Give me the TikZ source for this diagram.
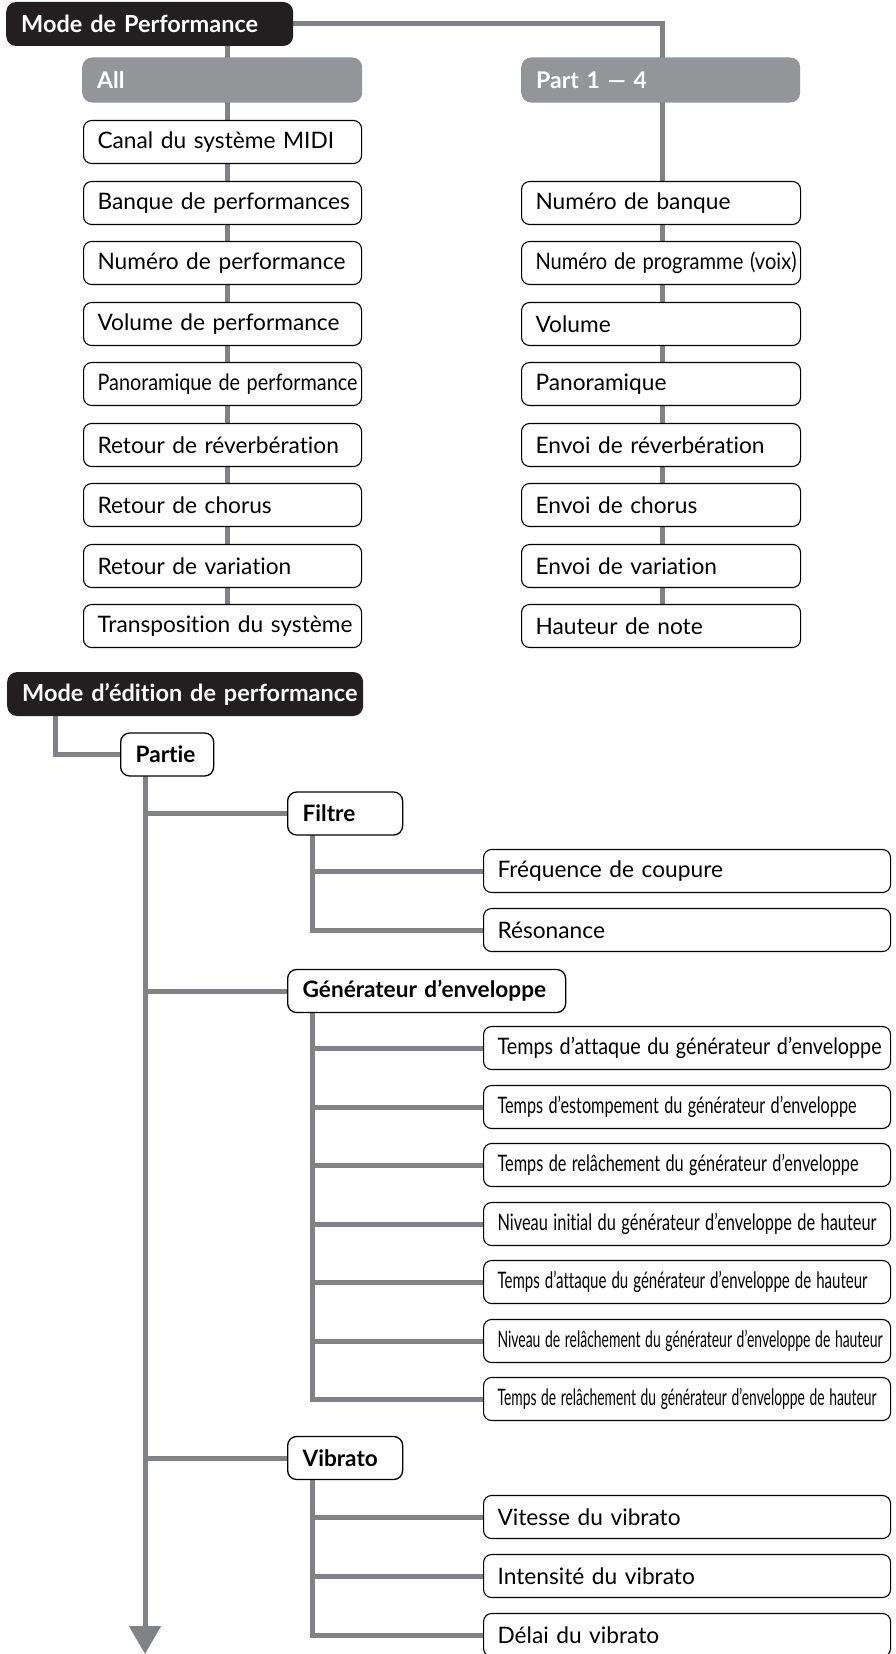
\documentclass[tikz,border=0pt]{standalone}
\usepackage{fontspec}
\setmainfont{Lato}[Ligatures=NoCommon]
\usepackage{graphicx}
\usepackage{tikz}
\usetikzlibrary{positioning, arrows.meta, backgrounds}

\definecolor{linegray}{HTML}{808285}
\definecolor{headgray}{HTML}{939598}
\definecolor{modeblack}{HTML}{231F20}

% squeeze a label to a given width, height kept
\newcommand{\squeeze}[2]{\resizebox{#1pt}{\height}{#2}}

\tikzset{
  oneline/.style={align=left, execute at begin node={\hbox\bgroup}, execute at end node={\egroup}},
  conn/.style={draw=linegray, line width=5pt},
  modebox/.style={rectangle, fill=modeblack, text=white, rounded corners=10pt, anchor=west, inner xsep=15pt, minimum height=44pt, text width=#1, oneline, font=\fontsize{23.5}{27}\selectfont\bfseries},
  headbox/.style={rectangle, fill=headgray, text=white, rounded corners=10pt, anchor=west, inner xsep=15pt, minimum height=45pt, text width=#1, oneline, font=\fontsize{23}{27}\selectfont\bfseries},
  groupbox/.style={rectangle, draw, line width=1.3pt, fill=white, rounded corners=9pt, anchor=west, inner xsep=15pt, minimum height=43pt, text width=#1, oneline, font=\fontsize{22.6}{26}\selectfont\bfseries},
  itembox/.style={rectangle, draw, line width=1.1pt, fill=white, rounded corners=8pt, anchor=west, inner xsep=14pt, minimum height=43pt, text width=#1, oneline, font=\fontsize{22.7}{26}\selectfont}
}

\begin{document}
\begin{tikzpicture}[x=1pt, y=-1pt]
\useasboundingbox (0,0) rectangle (895,1654);
\clip (0,0) rectangle (895,1654);

% Mode de Performance
\node[modebox=257pt] (mode) at (6,24) {Mode de Performance};
\node[headbox=250pt] (allhead) at (82,80) {All};
\node[headbox=249pt] (parthead) at (521,80) {Part 1 — 4};

% All column
\node[itembox=250pt] (canal) at (83,142) {Canal du système MIDI};
\node[itembox=250pt] (banque) at (83,203) {Banque de performances};
\node[itembox=250pt] (numperf) at (83,263) {Numéro de performance};
\node[itembox=250pt] (volperf) at (83,324) {Volume de performance};
\node[itembox=250pt] (panperf) at (83,384) {\squeeze{260}{Panoramique de performance}};
\node[itembox=250pt] (retrev) at (83,445) {Retour de réverbération};
\node[itembox=250pt] (retcho) at (83,505) {Retour de chorus};
\node[itembox=250pt] (retvar) at (83,566) {Retour de variation};
\node[itembox=250pt] (transp) at (83,626) {Transposition du système};

% Part 1 -- 4 column
\node[itembox=251pt] (numbanq) at (521,203) {Numéro de banque};
\node[itembox=251pt] (numprog) at (521,263) {\squeeze{261}{Numéro de programme (voix)}};
\node[itembox=251pt] (volume) at (521,324) {Volume};
\node[itembox=251pt] (pano) at (521,384) {Panoramique};
\node[itembox=251pt] (envrev) at (521,445) {Envoi de réverbération};
\node[itembox=251pt] (envcho) at (521,505) {Envoi de chorus};
\node[itembox=251pt] (envvar) at (521,566) {Envoi de variation};
\node[itembox=251pt] (hauteur) at (521,626) {Hauteur de note};

% Mode d'edition de performance
\node[modebox=326pt] (edit) at (7,694) {Mode d’édition de performance};
\node[groupbox=63pt] (partie) at (120,754.5) {Partie};
\node[groupbox=85pt] (filtre) at (287,813.5) {Filtre};
\node[groupbox=248pt] (gen) at (287,991) {Générateur d’enveloppe};
\node[groupbox=85pt] (vibrato) at (287,1458) {Vibrato};

% Filtre items
\node[itembox=379pt] (freq) at (483,871) {Fréquence de coupure};
\node[itembox=379pt] (reso) at (483,930) {Résonance};

% EG items
\node[itembox=379pt] (egatt) at (483,1048) {\squeeze{384}{Temps d’attaque du générateur d’enveloppe}};
\node[itembox=379pt] (egest) at (483,1107) {\squeeze{359}{Temps d’estompement du générateur d’enveloppe}};
\node[itembox=379pt] (egrel) at (483,1165) {\squeeze{361}{Temps de relâchement du générateur d’enveloppe}};
\node[itembox=379pt] (peginit) at (483,1224) {\squeeze{379}{Niveau initial du générateur d’enveloppe de hauteur}};
\node[itembox=379pt] (pegatt) at (483,1282) {\squeeze{370}{Temps d’attaque du générateur d’enveloppe de hauteur}};
\node[itembox=379pt] (peglev) at (483,1341) {\squeeze{385}{Niveau de relâchement du générateur d’enveloppe de hauteur}};
\node[itembox=379pt] (pegrel) at (483,1399) {\squeeze{379}{Temps de relâchement du générateur d’enveloppe de hauteur}};

% Vibrato items
\node[itembox=379pt] (vibspeed) at (483,1517) {Vitesse du vibrato};
\node[itembox=379pt] (vibdepth) at (483,1576) {Intensité du vibrato};
\node[itembox=379pt] (vibdelay) at (483,1635) {Délai du vibrato};

% Connectors
\coordinate (lcol) at (227,46);
\coordinate (rcol) at (662,0);
\coordinate (ebranch) at (55,716);
\coordinate (mtop) at (145,776);
\coordinate (mend) at (145,1654);
\coordinate (fsub) at (312,835);
\coordinate (gsub) at (312,1012);
\coordinate (vsub) at (312,1480);

\begin{scope}[on background layer]
\draw[conn] (lcol) -- (lcol |- transp.north);
\draw[conn] (mode.east) -| (rcol |- hauteur.north);
\draw[conn] (ebranch) |- (partie.west);
\draw[conn, -{Triangle[width=31pt, length=28pt]}] (mtop) -- (mend);
\draw[conn] (mtop |- filtre.west) -- (filtre.west);
\draw[conn] (mtop |- gen.west) -- (gen.west);
\draw[conn] (mtop |- vibrato.west) -- (vibrato.west);

\draw[conn] (fsub) |- (reso.west);
\draw[conn] (fsub |- freq.west) -- (freq.west);

\draw[conn] (gsub) |- (pegrel.west);
\draw[conn] (gsub |- egatt.west) -- (egatt.west);
\draw[conn] (gsub |- egest.west) -- (egest.west);
\draw[conn] (gsub |- egrel.west) -- (egrel.west);
\draw[conn] (gsub |- peginit.west) -- (peginit.west);
\draw[conn] (gsub |- pegatt.west) -- (pegatt.west);
\draw[conn] (gsub |- peglev.west) -- (peglev.west);

\draw[conn] (vsub) |- (vibdelay.west);
\draw[conn] (vsub |- vibspeed.west) -- (vibspeed.west);
\draw[conn] (vsub |- vibdepth.west) -- (vibdepth.west);
\end{scope}

\end{tikzpicture}
\end{document}
